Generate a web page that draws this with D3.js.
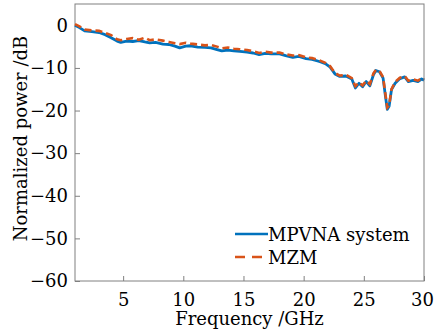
<!DOCTYPE html>
<html>
<head>
<meta charset="utf-8">
<script src="https://cdn.jsdelivr.net/npm/d3@7"></script>
<style>
  body { margin: 0; background: #fff; }
  text { font-family: "DejaVu Serif", serif; fill: #000; }
</style>
</head>
<body>
<div id="chart"></div>
<script>
// frequency grid (GHz), shared by both traces
const freq = [1, 1.4, 1.8, 2.4, 3.0, 3.5, 4.0, 4.5, 4.8, 5.3, 5.8, 6.3, 6.8, 7.2, 7.7, 8.3, 8.8, 9.3, 9.7,
  10.2, 10.6, 11.2, 11.8, 12.3, 12.8, 13.2, 13.7, 14.2, 14.7, 15.3, 15.8, 16.3, 16.8, 17.3, 18.0, 18.5,
  19.1, 19.6, 20.2, 20.7, 21.3, 21.8, 22.2, 22.6, 23.0, 23.5, 24.0, 24.3, 24.6, 24.9, 25.2, 25.5, 25.8,
  26.0, 26.3, 26.6, 26.8, 26.95, 27.1, 27.3, 27.6, 28.0, 28.4, 28.7, 29.1, 29.5, 29.8, 30];

// MPVNA system (dB)
const mpvna = [0, -0.6, -1.3, -1.5, -1.7, -2.2, -2.9, -3.7, -4.0, -3.7, -3.8, -3.6, -3.9, -4.1, -4.0, -4.4, -4.5, -4.9, -5.3,
  -4.9, -4.8, -5.1, -5.2, -5.3, -5.7, -6.0, -5.8, -6.0, -6.1, -6.3, -6.5, -6.9, -6.6, -6.7, -6.7, -7.1,
  -7.5, -7.3, -7.8, -8.0, -8.5, -9.0, -9.8, -11.4, -12.0, -11.9, -12.6, -14.7, -13.6, -14.4, -13.2, -14.2, -11.6,
  -10.6, -10.9, -12.4, -16.7, -19.7, -19.0, -15.1, -13.6, -12.5, -12.1, -13.2, -12.9, -13.2, -12.6, -12.9];

// MZM (dB)
const mzm = [0.3, -0.3, -1.0, -1.2, -1.3, -1.8, -2.3, -3.3, -3.5, -3.2, -3.0, -3.4, -2.9, -3.5, -3.3, -3.6, -3.9, -4.2, -4.4,
  -4.1, -4.3, -4.5, -4.7, -4.6, -5.0, -5.4, -5.2, -5.5, -5.6, -5.8, -6.1, -6.5, -6.2, -6.4, -6.4, -6.8,
  -7.1, -7.0, -7.5, -7.7, -8.2, -8.8, -9.6, -11.2, -11.8, -11.6, -12.4, -14.3, -13.4, -14.1, -13.0, -13.8, -11.3,
  -10.5, -10.7, -12.2, -16.3, -19.3, -18.8, -15.0, -13.3, -12.3, -11.9, -13.0, -12.7, -13.0, -12.4, -12.7];

const xTicks = [5, 10, 15, 20, 25, 30];
const yTicks = [0, -10, -20, -30, -40, -50, -60];
const seriesNames = ["MPVNA system", "MZM"];

const W = 434, H = 333;
const margin = { top: 4, right: 10, bottom: 52, left: 75 },
  width = W - margin.left - margin.right,
  height = H - margin.top - margin.bottom;

const svg = d3.select("#chart")
  .append("svg")
  .attr("width", W)
  .attr("height", H)
  .append("g")
  .attr("transform", `translate(${margin.left},${margin.top})`);

const x = d3.scaleLinear().domain([1, 30]).range([0, width]);
const y = d3.scaleLinear().domain([-60, 5]).range([height, 0]);

const axisColor = "#808080";
const fmt = d => d < 0 ? "\u2212" + Math.abs(d) : "" + d;

// box
svg.append("rect")
  .attr("width", width)
  .attr("height", height)
  .attr("fill", "none")
  .attr("stroke", axisColor)
  .attr("stroke-width", 1);

// x axis, inward ticks
const gx = svg.append("g")
  .attr("transform", `translate(0,${height})`)
  .call(d3.axisBottom(x).tickValues(xTicks).tickSize(-5).tickPadding(12).tickFormat(fmt));
gx.select(".domain").remove();
gx.selectAll("line").attr("stroke", axisColor);
gx.selectAll("text").attr("font-size", 18).attr("fill", "#000").style("font-family", "DejaVu Serif");
// keep the last label inside the window
gx.selectAll("text").filter(d => d === 30).attr("dx", -2);

// y axis, inward ticks
const gy = svg.append("g")
  .call(d3.axisLeft(y).tickValues(yTicks).tickSize(-5).tickPadding(7).tickFormat(fmt));
gy.select(".domain").remove();
gy.selectAll("line").attr("stroke", axisColor);
gy.selectAll("text").attr("font-size", 18).attr("fill", "#000").style("font-family", "DejaVu Serif");

// axis labels
svg.append("text")
  .attr("x", width / 2)
  .attr("y", height + 44)
  .attr("text-anchor", "middle")
  .attr("font-size", 18)
  .text("Frequency /GHz");

svg.append("text")
  .attr("transform", `translate(${-48},${height / 2 - 4}) rotate(-90)`)
  .attr("text-anchor", "middle")
  .attr("font-size", 18)
  .text("Normalized power /dB");

const line = d3.line()
  .x((d, i) => x(freq[i]))
  .y(d => y(d));

svg.append("path")
  .datum(mpvna)
  .attr("fill", "none")
  .attr("stroke", "#0072BD")
  .attr("stroke-width", 2.8)
  .attr("stroke-linejoin", "round")
  .attr("d", line);

svg.append("path")
  .datum(mzm)
  .attr("fill", "none")
  .attr("stroke", "#D95319")
  .attr("stroke-width", 2.6)
  .attr("stroke-dasharray", "7,4")
  .attr("d", line);

// legend
const legend = svg.append("g").attr("transform", `translate(${235 - margin.left},${234 - margin.top})`);
const styles = [
  { color: "#0072BD", dash: null },
  { color: "#D95319", dash: "10,7" }
];
seriesNames.forEach((name, i) => {
  const g = legend.append("g").attr("transform", `translate(0,${i * 23})`);
  g.append("line")
    .attr("x1", 0).attr("x2", 33)
    .attr("y1", 0).attr("y2", 0)
    .attr("stroke", styles[i].color)
    .attr("stroke-width", 2.6)
    .attr("stroke-dasharray", styles[i].dash);
  g.append("text")
    .attr("x", 33)
    .attr("y", 7)
    .attr("font-size", 18)
    .text(name);
});
</script>
</body>
</html>
